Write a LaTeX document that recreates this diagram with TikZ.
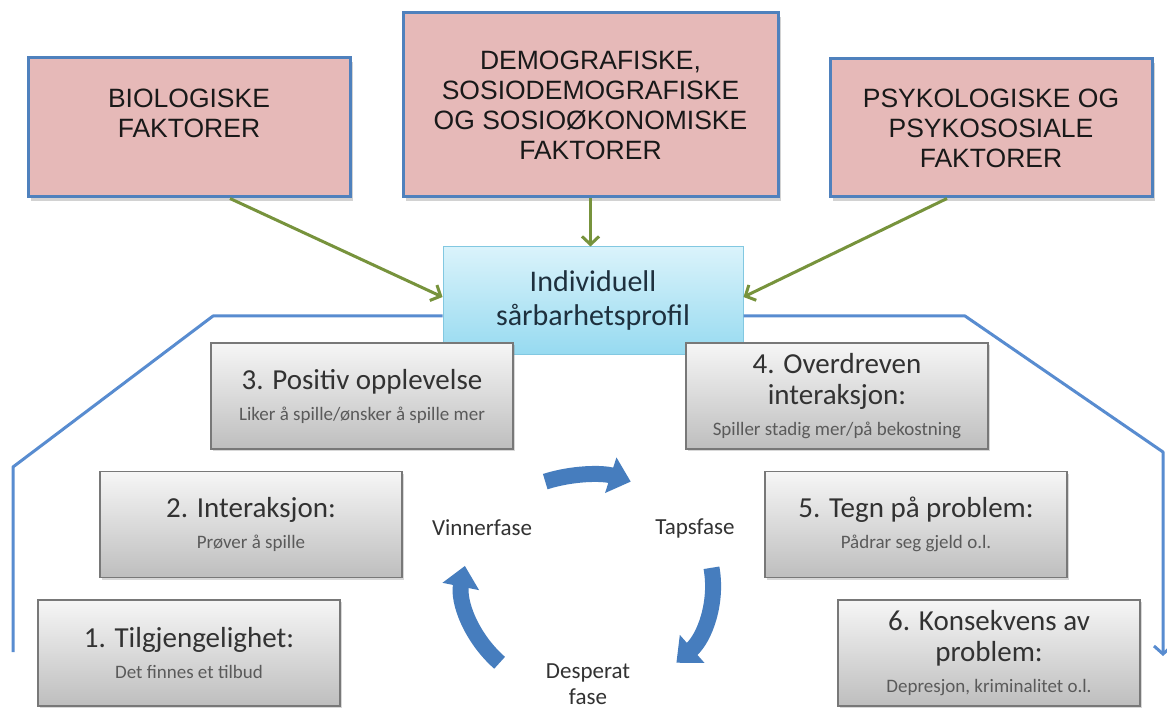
\documentclass[tikz,border=0pt]{standalone}
\usepackage{fontspec}
\setmainfont{Carlito}
\newfontfamily\arialfont{Liberation Sans}
\usetikzlibrary{arrows.meta,shadows,calc}

\definecolor{boxpink}{RGB}{230,185,184}
\definecolor{boxblue}{RGB}{79,129,189}
\definecolor{arrowgreen}{RGB}{119,147,60}
\definecolor{cycleblue}{RGB}{70,125,190}
\definecolor{linkblue}{RGB}{88,140,208}
\definecolor{profedge}{RGB}{130,200,225}
\definecolor{proftop}{RGB}{218,243,251}
\definecolor{profbot}{RGB}{150,218,240}
\definecolor{proftext}{RGB}{30,48,62}
\definecolor{stagetop}{RGB}{246,246,246}
\definecolor{stagebot}{RGB}{190,190,190}
\definecolor{stageedge}{RGB}{120,120,120}
\definecolor{titlegrey}{RGB}{50,50,50}
\definecolor{subgrey}{RGB}{90,90,90}

\newcommand\stagesub{\fontsize{19}{22}\selectfont\color{subgrey}}

\begin{document}
\begin{tikzpicture}[x=1pt,y=-1pt,
  factor/.style={draw=boxblue, line width=3pt, fill=boxpink, inner sep=0pt,
    drop shadow={shadow xshift=3pt,shadow yshift=-4pt,opacity=.35}},
  factortext/.style={font=\arialfont\fontsize{26.5}{30}\selectfont, align=center, text=black!90},
  profile/.style={draw=profedge, line width=1pt, top color=proftop, bottom color=profbot,
    minimum width=300pt, minimum height=108pt, align=center, inner sep=0pt,
    font=\fontsize{30}{34}\selectfont, text=proftext},
  stage/.style={draw=stageedge, line width=1.2pt, top color=stagetop, bottom color=stagebot,
    minimum width=302pt, minimum height=106pt, align=center, inner sep=0pt,
    text=titlegrey, font=\fontsize{29}{31}\selectfont,
    drop shadow={shadow xshift=1.5pt,shadow yshift=-2pt,opacity=.3}},
  feed/.style={draw=arrowgreen, line width=3pt, -{Straight Barb[length=8pt,width=17pt]}},
  route/.style={draw=linkblue, line width=3pt, line join=round},
  spin/.style={draw=cycleblue, line width=16pt, -{Triangle[length=21pt,width=36pt]}},
  phase/.style={font=\fontsize{23}{26}\selectfont, text=titlegrey, align=center}
]
\fill[white] (0,0) rectangle (1167,708);
\useasboundingbox (0,0) rectangle (1167,708);

% factor boxes along the top
\node[factor, minimum width=322pt, minimum height=139pt] (bio) at (189,127.5) {};
\node[factortext] (biotext) at (189,113) {BIOLOGISKE\\FAKTORER};
\node[factor, factortext, minimum width=375pt, minimum height=184pt] (demo) at (590.5,105)
  {DEMOGRAFISKE,\\SOSIODEMOGRAFISKE\\OG SOSIOØKONOMISKE\\FAKTORER};
\node[factor, factortext, minimum width=322pt, minimum height=138pt] (psy) at (991,128)
  {PSYKOLOGISKE OG\\PSYKOSOSIALE\\FAKTORER};

% frame lines leaving the profile box
\coordinate (lc1) at (213,316);
\coordinate (lc2) at (13,467);
\coordinate (lend) at (13,652);
\coordinate (rc1) at (965,316);
\coordinate (rc2) at (1163,452);
\coordinate (rend) at (1163,656);

\node[profile] (prof) at (593,301) {Individuell\\sårbarhetsprofil};

\draw[route] ([yshift=-15pt]prof.west) -- (lc1) -- (lc2) -- (lend);
\draw[route, -{Straight Barb[length=8pt,width=18pt]}] ([yshift=-15pt]prof.east) -- (rc1) -- (rc2) -- (rend);

% factors feeding the profile
\draw[feed] ([xshift=41pt]bio.south) -- ([yshift=4pt]prof.west);
\draw[feed] (demo.south) -- (demo.south |- prof.north);
\draw[feed] ([xshift=-44pt]psy.south) -- ([yshift=4pt]prof.east);

% stages
\node[stage] (s3) at (362,396) {3. Positiv opplevelse\\{\stagesub Liker å spille/ønsker å spille mer}};
\node[stage] (s4) at (837,396) {4. Overdreven\\interaksjon:\\{\stagesub Spiller stadig mer/på bekostning}};
\node[stage] (s2) at (251,524.5) {2. Interaksjon:\\{\stagesub Prøver å spille}};
\node[stage] (s5) at (916,524.5) {5. Tegn på problem:\\{\stagesub Pådrar seg gjeld o.l.}};
\node[stage] (s1) at (189,653) {1. Tilgjengelighet:\\{\stagesub Det finnes et tilbud}};
\node[stage] (s6) at (989,653) {6. Konsekvens av\\problem:\\{\stagesub Depresjon, kriminalitet o.l.}};

% phase cycle
\coordinate (cyc) at (588,585);
\draw[spin] (cyc) ++(110:125pt and 110pt) arc[start angle=110,end angle=70,x radius=125pt,y radius=110pt];
\draw[spin] (cyc) ++(9:125pt and 110pt) arc[start angle=9,end angle=-45,x radius=125pt,y radius=110pt];
\draw[spin] (cyc) ++(225:125pt and 110pt) arc[start angle=225,end angle=170,x radius=125pt,y radius=110pt];

\node[phase] (vin) at (482,528) {Vinnerfase};
\node[phase] (tap) at (695,528) {Tapsfase};
\node[phase] (des) at (588,684) {Desperat\\fase};
\end{tikzpicture}
\end{document}
